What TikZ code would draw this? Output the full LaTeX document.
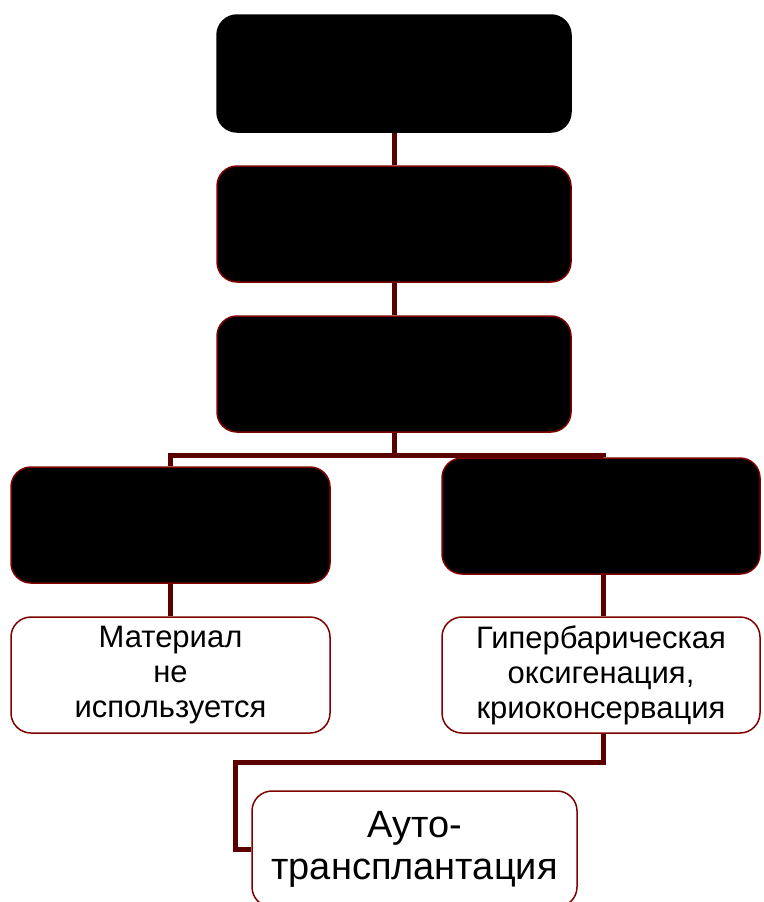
\documentclass[tikz,border=0pt]{standalone}
\usepackage{fontspec}
\setmainfont{Liberation Sans}
\definecolor{kant}{HTML}{800000}
\definecolor{svyaz}{HTML}{5A0000}
\usetikzlibrary{calc, positioning}

\tikzset{
  blok/.style={rectangle, rounded corners=20pt, fill=black, draw=kant, line width=1.5pt, inner sep=0pt},
  belyj/.style={rectangle, rounded corners=20pt, fill=white, draw=kant, line width=1.5pt, inner sep=0pt, align=center, font=\fontsize{31}{35}\selectfont},
  svyazka/.style={draw=svyaz, line width=5pt}
}

\begin{document}
\begin{tikzpicture}[x=1pt, y=-1pt]
  \clip (0,0) rectangle (763,902);
  \fill[white] (0,0) rectangle (763,902);
  % verkh
  \node[blok, draw=black, minimum width=354, minimum height=117] (glav) at (394,73.5) {};
  \node[blok, minimum width=354, minimum height=116] (vtor) at (394,224) {};
  \node[blok, minimum width=354, minimum height=116] (tret) at (394,374) {};
  % vetvi
  \node[blok, minimum width=319, minimum height=116] (levblok) at (170.5,525) {};
  \node[blok, minimum width=318, minimum height=116] (pravblok) at (601,516) {};
  \node[belyj, minimum width=319, minimum height=116] (mater) at (170.5,675) {Материал\\не\\используется};
  \node[belyj, minimum width=318, minimum height=116] (giper) at (601,675) {Гипербарическая\\оксигенация,\\криоконсервация};
  \node[belyj, minimum width=325, minimum height=116, font=\fontsize{38}{42}\selectfont] (auto) at (414.5,849) {Ауто-\\трансплантация};
  \coordinate (razv) at (394,455);
  \coordinate (povorot) at (235,762);
  % linii
  \draw[svyazka] (glav.south) -- (vtor.north);
  \draw[svyazka] (vtor.south) -- (tret.north);
  \draw[svyazka] (tret.south) -- (razv) -| (levblok.north);
  \draw[svyazka] (razv) -| ([xshift=2]pravblok.north);
  \draw[svyazka] (levblok.south) -- (mater.north);
  \draw[svyazka] ([xshift=2]pravblok.south) -- ([xshift=2]giper.north);
  \draw[svyazka] ([xshift=2]giper.south) |- (povorot) |- (auto.west);
\end{tikzpicture}
\end{document}
